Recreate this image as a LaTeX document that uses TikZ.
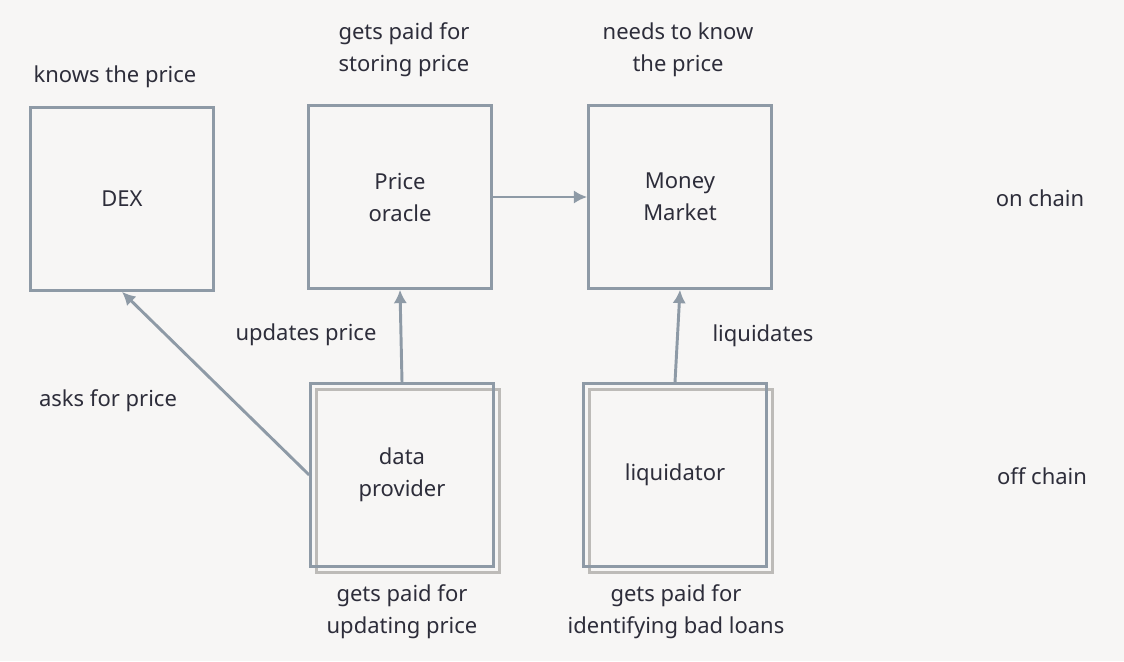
\documentclass[tikz,border=0pt]{standalone}
\usepackage{fontspec}
\setmainfont{Noto Sans}
\definecolor{bg}{HTML}{F7F6F5}
\definecolor{ln}{HTML}{8E9AA6}
\definecolor{tx}{HTML}{2D2D3A}
\definecolor{sh}{HTML}{BDBBB8}
\begin{document}
\begin{tikzpicture}[x=0.75pt,y=-0.75pt,
  box/.style={draw=ln,line width=2.2pt,minimum width=137pt,minimum height=137pt,inner sep=0pt,text=tx,align=center,font=\fontsize{16.5}{24}\selectfont},
  shbox/.style={draw=sh,line width=2.2pt,minimum width=137pt,minimum height=137pt,inner sep=0pt},
  lbl/.style={text=tx,align=center,font=\fontsize{16.5}{24}\selectfont},
  arr/.style={draw=ln,line width=2.2pt,-{Latex[length=10pt,width=10pt]}}]
\usetikzlibrary{arrows.meta}
\fill[bg] (0,0) rectangle (1124,661);
\node[box] (dex) at (122,199) {DEX};
\node[box] (or) at (400,197) {Price\\oracle};
\node[box] (mm) at (680,197) {Money\\Market};
\node[shbox] (dps) at (408,481) {};
\node[box] (dp) at (402,475) {data\\provider};
\node[shbox] (lqs) at (681,481) {};
\node[box] (lq) at (675,475) {liquidator};
\draw[arr] (or.east) -- (mm.west);
\draw[arr] (dp.north) -- (or.south);
\draw[arr] (lq.north) -- (mm.south);
\draw[arr] (dp.west) -- (dex.south);
\node[lbl] (t1) at (115,77) {knows the price};
\node[lbl] (t2) at (404,50) {gets paid for\\storing price};
\node[lbl] (t3) at (678,50) {needs to know\\the price};
\node[lbl] (t4) at (1040,198) {on chain};
\node[lbl] (t5) at (1042,476) {off chain};
\node[lbl] (t6) at (306,335) {updates price};
\node[lbl] (t7) at (763,336) {liquidates};
\node[lbl] (t8) at (108,401) {asks for price};
\node[lbl] (t9) at (402,612) {gets paid for\\updating price};
\node[lbl] (t10) at (676,612) {gets paid for\\identifying bad loans};
\end{tikzpicture}
\end{document}
